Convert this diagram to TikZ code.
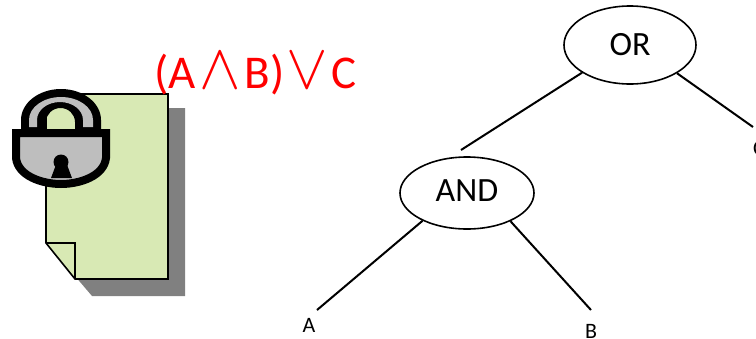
\documentclass[tikz,border=0pt]{standalone}
\usepackage{xcolor}
\usepackage{graphicx}
\usepackage{fontspec}
\setmainfont{Carlito}
\usetikzlibrary{shapes.geometric, positioning}
\definecolor{pagegreen}{RGB}{216,233,180}
\definecolor{shadowgray}{RGB}{128,128,128}
\definecolor{lockgray}{RGB}{190,190,190}

\begin{document}
\begin{tikzpicture}[
        x=1pt, y=-1pt,
        gate/.style={ellipse, draw, line width=1.6pt, inner sep=0pt, font=\fontsize{34}{38}\selectfont},
        leaf/.style={inner sep=0pt, font=\fontsize{22}{24}\selectfont},
        edge/.style={line width=2pt},
        outline/.style={draw, line width=1.6pt, line join=miter}
    ]
        \useasboundingbox (0,0) rectangle (756,338);

        % document with shadow
        \fill[shadowgray] (63,108) -- (185,108) -- (185,296) -- (92,296) -- (63,262) -- cycle;
        \path[outline, fill=pagegreen] (46,94) -- (168,94) -- (168,279) -- (75,279) -- (46,243) -- cycle;
        \draw[outline] (46,243) -- (75,243) -- (75,279);

        % padlock
        \fill[even odd rule] (21,132) -- (21,120) arc[start angle=180, end angle=360, x radius=40, y radius=31] -- (101,132) -- (75,132) -- (75,122) arc[start angle=0, end angle=-180, x radius=14.5, y radius=14] -- (46,132) -- cycle;
        \fill[lockgray] (29,127) -- (29,120) arc[start angle=180, end angle=360, x radius=32, y radius=23] -- (93,127) -- (83,127) -- (83,120) arc[start angle=0, end angle=-180, x radius=23, y radius=18] -- (37,127) -- cycle;
        \draw[line width=8pt, fill=lockgray, line join=miter] (16,133) -- (16,158) .. controls (18,176) and (42,184) .. (61,184) .. controls (80,184) and (104,176) .. (106,158) -- (106,133) -- cycle;
        \fill (61,162) circle[radius=7.5];
        \fill (57,162) -- (51,178) -- (72,178) -- (66,162) -- cycle;

        % access policy
        \node[text=red, inner sep=0pt, anchor=base west, font=\fontsize{47}{52}\selectfont] (policy) at (154.5,88) {(A\kern3pt\scalebox{2.5}[2.57]{$\wedge$}\kern4pt B)\kern2pt\scalebox{2.5}[2.57]{$\vee$}\kern4pt C};

        % tree
        \node[gate, minimum width=132pt, minimum height=78pt] (orgate) at (630,45) {OR};
        \node[gate, minimum width=134pt, minimum height=72pt] (andgate) at (467,193) {\raisebox{4pt}{AND}};

        \coordinate (andtop) at (461,150);
        \coordinate (rightend) at (753,127);
        \coordinate (leftend) at (317,310);
        \coordinate (midend) at (591,310);

        \node[leaf, anchor=north] (leafa) at (309,318) {A};
        \node[leaf, anchor=north] (leafb) at (591,324) {B};
        \node[leaf, anchor=north west] (leafc) at (753,141) {C};

        \draw[edge] (orgate.210) -- (andtop);
        \draw[edge] (orgate.-31) -- (rightend);
        \draw[edge] (andgate.212) -- (leftend);
        \draw[edge] (andgate.-33) -- (midend);
    \end{tikzpicture}
\end{document}
